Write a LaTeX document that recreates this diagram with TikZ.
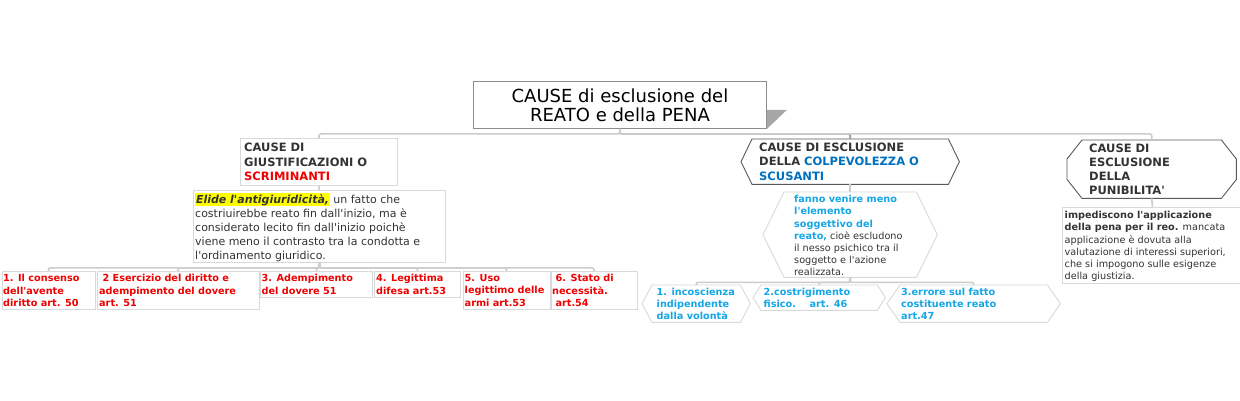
\documentclass[tikz,border=0pt]{standalone}
\usepackage{fontspec}
\setmainfont{DejaVu Sans}[Ligatures=TeXOff]
\usepackage{xcolor}
\definecolor{redtxt}{HTML}{F00000}
\definecolor{darktxt}{HTML}{333333}
\definecolor{bluetxt}{HTML}{0070C0}
\definecolor{lbluetxt}{HTML}{14A6E6}
\definecolor{hlyellow}{HTML}{FFFF00}
\definecolor{lightborder}{HTML}{D9D9D9}
\definecolor{connc}{HTML}{CDCDCD}
\newcommand{\hlt}[1]{\begingroup\setlength{\fboxsep}{0.8pt}\smash{\colorbox{hlyellow}{#1}}\endgroup}
\newcommand{\hexoutline}[3]{\draw[#3] ([xshift=#2]#1.north west) -- ([xshift=-#2]#1.north east) -- (#1.east) -- ([xshift=-#2]#1.south east) -- ([xshift=#2]#1.south west) -- (#1.west) -- cycle;}
\begin{document}
\begin{tikzpicture}[x=1pt,y=-1pt,
  shapebox/.style={rectangle, draw=none, inner sep=0, anchor=north west},
  rectbox/.style={rectangle, draw=lightborder, line width=0.9pt, inner sep=0, anchor=north west},
  txt/.style={anchor=west, inner sep=0, align=left, text=darktxt},
  hdr/.style={txt, font=\fontsize{11.5}{14.2}\selectfont\bfseries},
  body/.style={txt, font=\fontsize{9.7}{12.2}\selectfont},
  bigbody/.style={txt, font=\fontsize{11}{14.2}\selectfont},
  redt/.style={txt, font=\fontsize{9.7}{12.2}\selectfont\bfseries, text=redtxt},
  lbt/.style={txt, font=\fontsize{9.7}{12.1}\selectfont\bfseries, text=lbluetxt},
  conn/.style={draw=connc, line width=1.6pt, rounded corners=2pt},
  darkline/.style={draw=black!65, line width=0.9pt},
  lightline/.style={draw=lightborder, line width=0.9pt}
]
\useasboundingbox[fill=white] (0,0) rectangle (1240,400);

% ---------- title ----------
\node[rectbox, draw=black!45, minimum width=293, minimum height=47] (title) at (473,81) {};
\fill[black!35] ([yshift=19]title.south east) -- ([xshift=20,yshift=19]title.south east) -- (title.south east) -- cycle;
\node[align=center, inner sep=0, font=\fontsize{18}{19}\selectfont, text=black] (titletxt) at (title.center) {CAUSE di esclusione del\\REATO e della PENA};

% ---------- level 1 boxes ----------
\node[rectbox, minimum width=157, minimum height=47] (n1) at (240,138) {};
\node[hdr] (n1t) at ([xshift=4]n1.west) {CAUSE DI\\GIUSTIFICAZIONI O\\{\color{redtxt}SCRIMINANTI}};

\node[shapebox, minimum width=218, minimum height=45] (n2) at (741,139) {};
\hexoutline{n2}{11}{darkline}
\node[hdr] (n2t) at ([xshift=18]n2.west) {CAUSE DI ESCLUSIONE\\DELLA {\color{bluetxt}COLPEVOLEZZA O}\\{\color{bluetxt}SCUSANTI}};

\node[shapebox, minimum width=169, minimum height=58] (n3) at (1067,140) {};
\draw[darkline] ([xshift=15]n3.north west) -- ([xshift=-15]n3.north east) -- ([yshift=-19]n3.north east) -- ([yshift=19]n3.south east) -- ([xshift=-15]n3.south east) -- ([xshift=15]n3.south west) -- ([yshift=19]n3.south west) -- ([yshift=-19]n3.north west) -- cycle;
\node[hdr] (n3t) at ([xshift=22]n3.west) {CAUSE DI\\ESCLUSIONE\\DELLA\\PUNIBILITA'};

% ---------- descriptions ----------
\node[rectbox, minimum width=252, minimum height=72] (d1) at (193,190) {};
\node[bigbody] (d1t) at ([xshift=2,yshift=-2]d1.west) {\hlt{\textbf{\textit{Elide l'antigiuridicità,}}} un fatto che\\costriuirebbe reato fin dall'inizio, ma è\\considerato lecito fin dall'inizio poichè\\viene meno il contrasto tra la condotta e\\l'ordinamento giuridico.};

\node[shapebox, minimum width=174, minimum height=85] (d2) at (763,192) {};
\hexoutline{d2}{21}{lightline}
\node[body] (d2t) at ([xshift=31,yshift=-1]d2.west) {{\color{lbluetxt}\bfseries fanno venire meno}\\{\color{lbluetxt}\bfseries l'elemento}\\{\color{lbluetxt}\bfseries soggettivo del}\\{\color{lbluetxt}\bfseries reato,} cioè escludono\\il nesso psichico tra il\\soggetto e l'azione\\realizzata.};

\node[rectbox, minimum width=180, minimum height=76] (d3) at (1062,207) {};
\node[body] (d3t) at ([xshift=2.5,yshift=-1]d3.west) {\textbf{impediscono l'applicazione}\\\textbf{della pena per il reo.} mancata\\applicazione è dovuta alla\\valutazione di interessi superiori,\\che si impogono sulle esigenze\\della giustizia.};

% ---------- red items ----------
\node[rectbox, minimum width=93, minimum height=38] (r1) at (1.5,271) {};
\node[redt] (r1t) at ([xshift=1.5]r1.west) {1. Il consenso\\dell'avente\\diritto art. 50};
\node[rectbox, minimum width=162, minimum height=38] (r2) at (96.5,271) {};
\node[redt] (r2t) at ([xshift=2.5]r2.west) {\ 2 Esercizio del diritto e\\adempimento del dovere\\art. 51};
\node[rectbox, minimum width=112, minimum height=26] (r3) at (260,271) {};
\node[redt] (r3t) at ([xshift=1.5]r3.west) {3. Adempimento\\del dovere 51};
\node[rectbox, minimum width=86, minimum height=26] (r4) at (374,271) {};
\node[redt] (r4t) at ([xshift=2]r4.west) {4. Legittima\\difesa art.53};
\node[rectbox, minimum width=87, minimum height=38] (r5) at (462.5,271) {};
\node[redt] (r5t) at ([xshift=2]r5.west) {5. Uso\\legittimo delle\\armi art.53};
\node[rectbox, minimum width=86, minimum height=38] (r6) at (550.5,271) {};
\node[redt] (r6t) at ([xshift=1.5]r6.west) {\ 6. Stato di\\necessità.\\\ art.54};

% ---------- light blue items ----------
\node[shapebox, minimum width=108, minimum height=37] (c1) at (642,285) {};
\hexoutline{c1}{10}{lightline}
\node[lbt] (c1t) at ([xshift=14.5]c1.west) {1. incoscienza\\indipendente\\dalla volontà};
\node[shapebox, minimum width=132, minimum height=25] (c2) at (753,285) {};
\hexoutline{c2}{8}{lightline}
\node[lbt] (c2t) at ([xshift=10.5]c2.west) {2.costrigimento\\fisico.\ \ \ \ art. 46};
\node[shapebox, minimum width=173, minimum height=37] (c3) at (887,285) {};
\hexoutline{c3}{13}{lightline}
\node[lbt] (c3t) at ([xshift=14]c3.west) {3.errore sul fatto\\costituente reato\\art.47};

% ---------- connectors ----------
\draw[conn] (title.south) -- ++(0,5) -| (n1.north);
\draw[conn, draw=black!40] (title.south) -- ++(0,5) -| (n2.north);
\draw[conn] (title.south) -- ++(0,5) -| (n3.north);

\draw[conn] (n1.south) -- (d1.north);
\draw[conn] (n2.south) -- (d2.north);
\draw[conn] (n3.south) -- (d3.north);

\foreach \r in {r1,r2,r3,r4,r5,r6}{
  \draw[conn] (d1.south) -- ++(0,5) -| (\r.north);
}
\foreach \c in {c1,c2,c3}{
  \draw[conn] (d2.south) -- ++(0,5) -| (\c.north);
}
\end{tikzpicture}
\end{document}
